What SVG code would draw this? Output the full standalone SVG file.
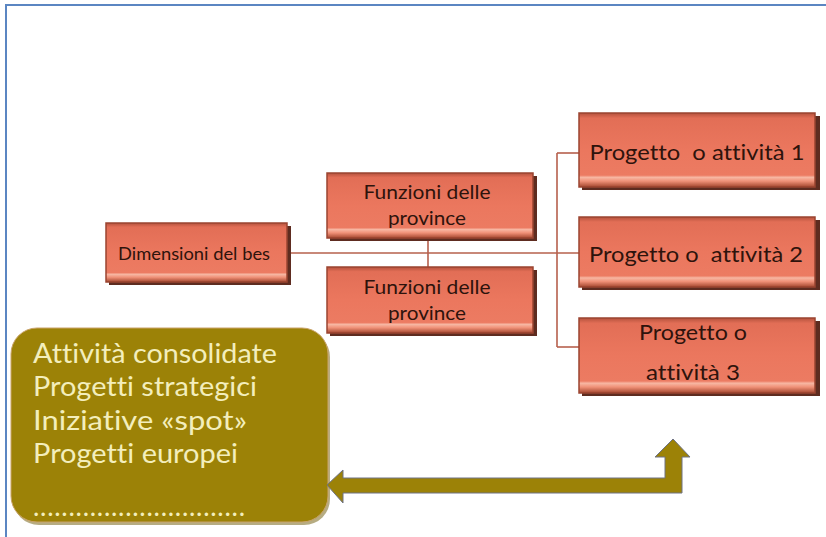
<svg xmlns="http://www.w3.org/2000/svg" width="826" height="537" viewBox="0 0 826 537">
<defs>
<linearGradient id="boxg" x1="0" y1="0" x2="0" y2="1">
<stop offset="0" stop-color="#B5523D"/>
<stop offset="0.07" stop-color="#E26E56"/>
<stop offset="0.5" stop-color="#EB775E"/>
<stop offset="0.84" stop-color="#EC7B62"/>
<stop offset="0.87" stop-color="#F7B7A3"/>
<stop offset="0.92" stop-color="#F09178"/>
<stop offset="1" stop-color="#A4472F"/>
</linearGradient>
<style>
.shadow{fill:#5E2C20;}
.box{fill:url(#boxg);stroke:#9A4430;stroke-width:1.5;}
.bt{font-family:Lato,"Open Sans",sans-serif;fill:#2E130C;text-anchor:middle;font-variant-ligatures:none;white-space:pre;}
.conn{stroke:#B6604D;stroke-width:1.6;fill:none;}
.ot{font-family:Lato,"Open Sans",sans-serif;fill:#F3EEBC;font-size:27px;font-variant-ligatures:none;}
</style>
</defs>
<rect x="0" y="0" width="826" height="537" fill="#FFFFFF"/>
<path d="M6,537 L6,5 L826,5" fill="none" stroke="#5B86C2" stroke-width="2"/>

<g id="connectors">
<line class="conn" x1="288" y1="253" x2="579" y2="253"/>
<line class="conn" x1="428" y1="240" x2="428" y2="267"/>
<line class="conn" x1="557" y1="153" x2="557" y2="347"/>
<line class="conn" x1="557" y1="153" x2="579" y2="153"/>
<line class="conn" x1="557" y1="347" x2="579" y2="347"/>
</g>

<g id="dimensioni">
<rect class="shadow" x="109" y="226" width="182" height="59"/>
<rect class="box" x="106" y="223" width="181" height="59"/>
<text class="bt" x="194" y="260" font-size="17" textLength="152" lengthAdjust="spacingAndGlyphs">Dimensioni del bes</text>
</g>

<g id="funzioni1">
<rect class="shadow" x="330" y="176" width="207" height="65"/>
<rect class="box" x="327" y="173" width="206" height="65"/>
<text class="bt" x="427" y="199" font-size="19" textLength="127" lengthAdjust="spacingAndGlyphs">Funzioni delle</text>
<text class="bt" x="427" y="225" font-size="19" textLength="78" lengthAdjust="spacingAndGlyphs">province</text>
</g>

<g id="funzioni2">
<rect class="shadow" x="330" y="270" width="207" height="66"/>
<rect class="box" x="327" y="267" width="206" height="66"/>
<text class="bt" x="427" y="294" font-size="19" textLength="127" lengthAdjust="spacingAndGlyphs">Funzioni delle</text>
<text class="bt" x="427" y="320" font-size="19" textLength="78" lengthAdjust="spacingAndGlyphs">province</text>
</g>

<g id="progetto1">
<rect class="shadow" x="582" y="116" width="238" height="74"/>
<rect class="box" x="579" y="113" width="236" height="74"/>
<text class="bt" x="697" y="160" font-size="22" textLength="215" lengthAdjust="spacingAndGlyphs" xml:space="preserve">Progetto  o attività 1</text>
</g>

<g id="progetto2">
<rect class="shadow" x="582" y="220" width="238" height="70"/>
<rect class="box" x="579" y="217" width="236" height="70"/>
<text class="bt" x="696" y="262" font-size="22" textLength="214" lengthAdjust="spacingAndGlyphs" xml:space="preserve">Progetto o  attività 2</text>
</g>

<g id="progetto3">
<rect class="shadow" x="582" y="321" width="238" height="75"/>
<rect class="box" x="579" y="318" width="236" height="75"/>
<text class="bt" x="693" y="340" font-size="22" textLength="108" lengthAdjust="spacingAndGlyphs">Progetto o</text>
<text class="bt" x="693" y="380" font-size="22" textLength="94" lengthAdjust="spacingAndGlyphs">attività 3</text>
</g>

<g id="elenco">
<rect x="13" y="331" width="317" height="194" rx="26" fill="#6E5A05" opacity="0.5"/>
<rect x="11" y="328" width="317" height="194" rx="26" fill="#9C8207" stroke="#C9A36A" stroke-width="1"/>
<text class="ot" x="33" y="363" textLength="244" lengthAdjust="spacingAndGlyphs">Attività consolidate</text>
<text class="ot" x="33" y="396" textLength="224" lengthAdjust="spacingAndGlyphs">Progetti strategici</text>
<text class="ot" x="33" y="430" textLength="214" lengthAdjust="spacingAndGlyphs">Iniziative «spot»</text>
<text class="ot" x="33" y="463" textLength="205" lengthAdjust="spacingAndGlyphs">Progetti europei</text>
<text class="ot" x="33" y="516" font-size="20" textLength="212" lengthAdjust="spacing">..............................</text>
</g>

<g id="freccia">
<path d="M327,485 L343,470 L343,478 L665,478 L665,457 L655,457 L673,439 L690,457 L682,457 L682,493 L343,493 L343,503 Z" fill="#9C8207" stroke="#6E7284" stroke-width="1"/>
</g>
</svg>
